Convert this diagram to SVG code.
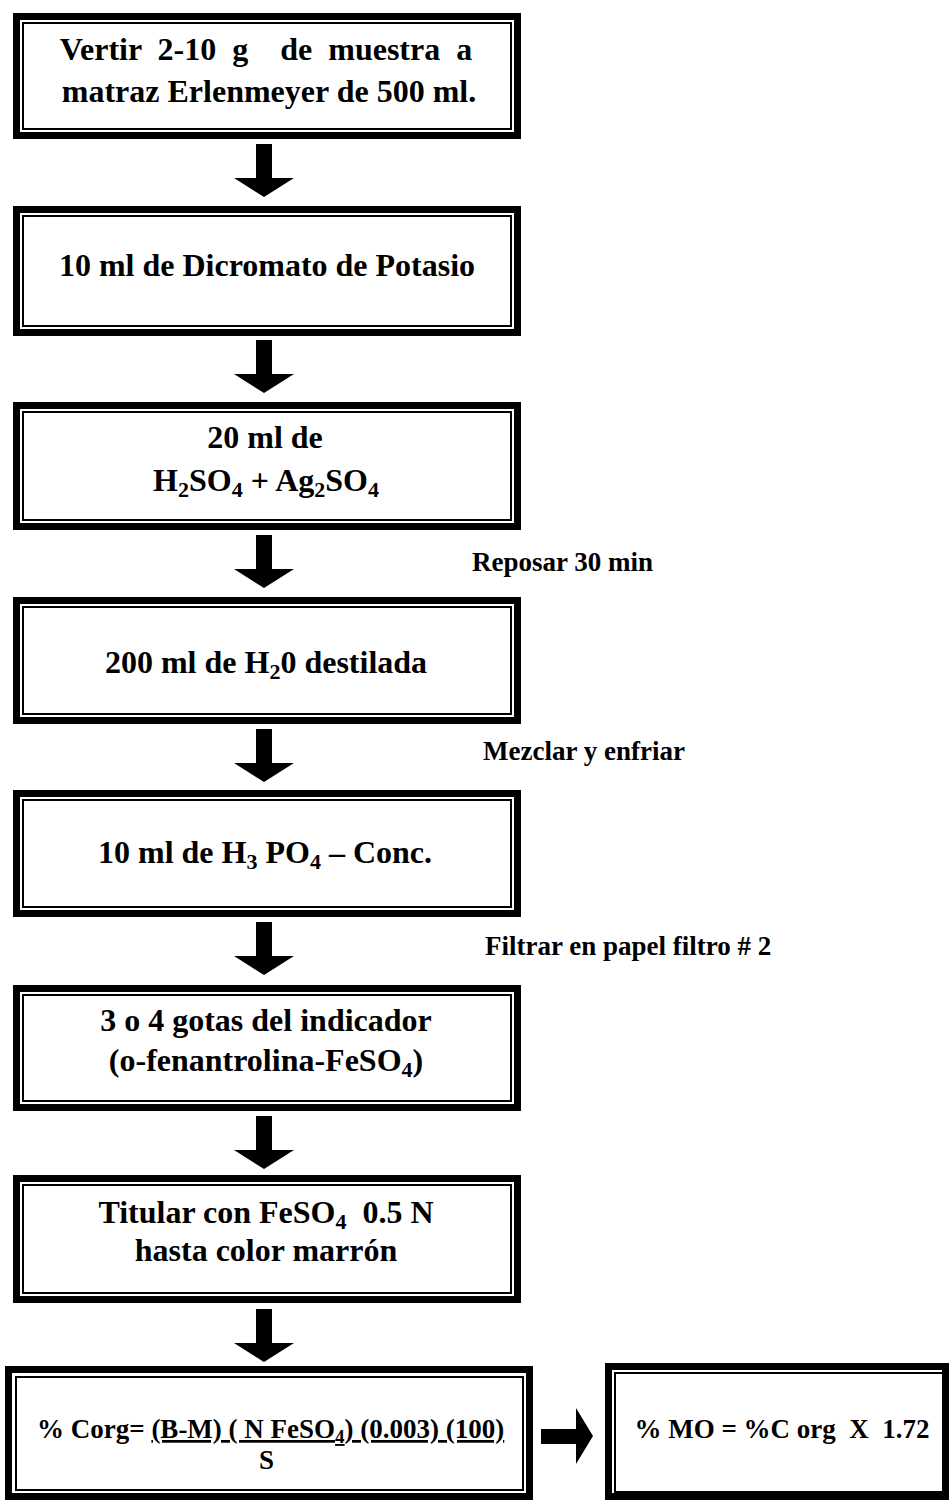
<svg xmlns="http://www.w3.org/2000/svg" width="950" height="1500" viewBox="0 0 950 1500">
<style>
.outer{fill:#fff;stroke:#000;stroke-width:7}
.inner{fill:none;stroke:#000;stroke-width:2}
.t{font-family:"Liberation Serif","Times New Roman",serif;font-weight:bold;font-size:32px;fill:#000;text-anchor:middle}
.f{font-family:"Liberation Serif","Times New Roman",serif;font-weight:bold;font-size:27px;fill:#000}
.lbl{font-family:"Liberation Serif","Times New Roman",serif;font-weight:bold;font-size:27px;fill:#000}
.arr{fill:#000}
</style>
<rect width="950" height="1500" fill="#fff"/>
<g id="n1"><rect class="outer" x="16.5" y="16.5" width="501" height="119"/><rect class="inner" x="23" y="23" width="488" height="106"/>
<text class="t" x="266" y="60" word-spacing="8" xml:space="preserve">Vertir 2-10 g  de muestra a</text>
<text class="t" x="269" y="102">matraz Erlenmeyer de 500 ml.</text></g>
<g id="n2"><rect class="outer" x="16.5" y="209.5" width="501" height="123"/><rect class="inner" x="23" y="216" width="488" height="110"/>
<text class="t" x="267" y="276">10 ml de Dicromato de Potasio</text></g>
<g id="n3"><rect class="outer" x="16.5" y="405.5" width="501" height="121"/><rect class="inner" x="23" y="412" width="488" height="108"/>
<text class="t" x="265" y="448">20 ml de</text>
<text class="t" x="266" y="491">H<tspan font-size="22" dy="6">2</tspan><tspan dy="-6">SO</tspan><tspan font-size="22" dy="6">4</tspan><tspan dy="-6"> + Ag</tspan><tspan font-size="22" dy="6">2</tspan><tspan dy="-6">SO</tspan><tspan font-size="22" dy="6">4</tspan></text></g>
<g id="n4"><rect class="outer" x="16.5" y="600.5" width="501" height="120"/><rect class="inner" x="23" y="607" width="488" height="107"/>
<text class="t" x="266" y="673">200 ml de H<tspan font-size="22" dy="6">2</tspan><tspan dy="-6">0 destilada</tspan></text></g>
<g id="n5"><rect class="outer" x="16.5" y="793.5" width="501" height="120"/><rect class="inner" x="23" y="800" width="488" height="107"/>
<text class="t" x="265" y="863" xml:space="preserve">10 ml de H<tspan font-size="22" dy="6">3</tspan><tspan dy="-6"> PO</tspan><tspan font-size="22" dy="6">4</tspan><tspan dy="-6"> – Conc.</tspan></text></g>
<g id="n6"><rect class="outer" x="16.5" y="988.5" width="501" height="119"/><rect class="inner" x="23" y="995" width="488" height="106"/>
<text class="t" x="266" y="1031">3 o 4 gotas del indicador</text>
<text class="t" x="266" y="1071">(o-fenantrolina-FeSO<tspan font-size="22" dy="6">4</tspan><tspan dy="-6">)</tspan></text></g>
<g id="n7"><rect class="outer" x="16.5" y="1178.5" width="501" height="121"/><rect class="inner" x="23" y="1185" width="488" height="108"/>
<text class="t" x="266" y="1223" xml:space="preserve">Titular con FeSO<tspan font-size="22" dy="6">4</tspan><tspan dy="-6">  0.5 N</tspan></text>
<text class="t" x="266" y="1261">hasta color marrón</text></g>
<g id="n8"><rect class="outer" x="8.5" y="1369.5" width="521" height="127"/><rect class="inner" x="16" y="1377" width="507" height="113"/>
<text class="f" x="37" y="1438">% Corg= <tspan text-decoration="underline">(B-M) ( N FeSO<tspan font-size="19" dy="5">4</tspan><tspan dy="-5">) (0.003) (100)</tspan></tspan></text>
<text class="f" x="259" y="1469">S</text></g>
<g id="n9"><rect class="outer" x="608.5" y="1366.5" width="337" height="130"/><rect class="inner" x="615" y="1373" width="330" height="119"/>
<text class="f" x="782" y="1438" text-anchor="middle" xml:space="preserve">% MO = %C org  X  1.72</text></g>
<g id="labels">
<text class="lbl" x="472" y="571">Reposar 30 min</text>
<text class="lbl" x="483" y="760">Mezclar y enfriar</text>
<text class="lbl" x="485" y="955">Filtrar en papel filtro # 2</text>
</g>
<g id="connectors">
<path class="arr" d="M256 144H272V178H294L264 197L234 178H256Z"/>
<path class="arr" d="M256 340H272V374H294L264 393L234 374H256Z"/>
<path class="arr" d="M256 535H272V569H294L264 588L234 569H256Z"/>
<path class="arr" d="M256 729H272V763H294L264 782L234 763H256Z"/>
<path class="arr" d="M256 922H272V956H294L264 975L234 956H256Z"/>
<path class="arr" d="M256 1116H272V1150H294L264 1169L234 1150H256Z"/>
<path class="arr" d="M256 1309H272V1343H294L264 1362L234 1343H256Z"/>
<path class="arr" d="M541 1429V1444H576V1464L593 1436L576 1408V1429Z"/>
</g>
</svg>
